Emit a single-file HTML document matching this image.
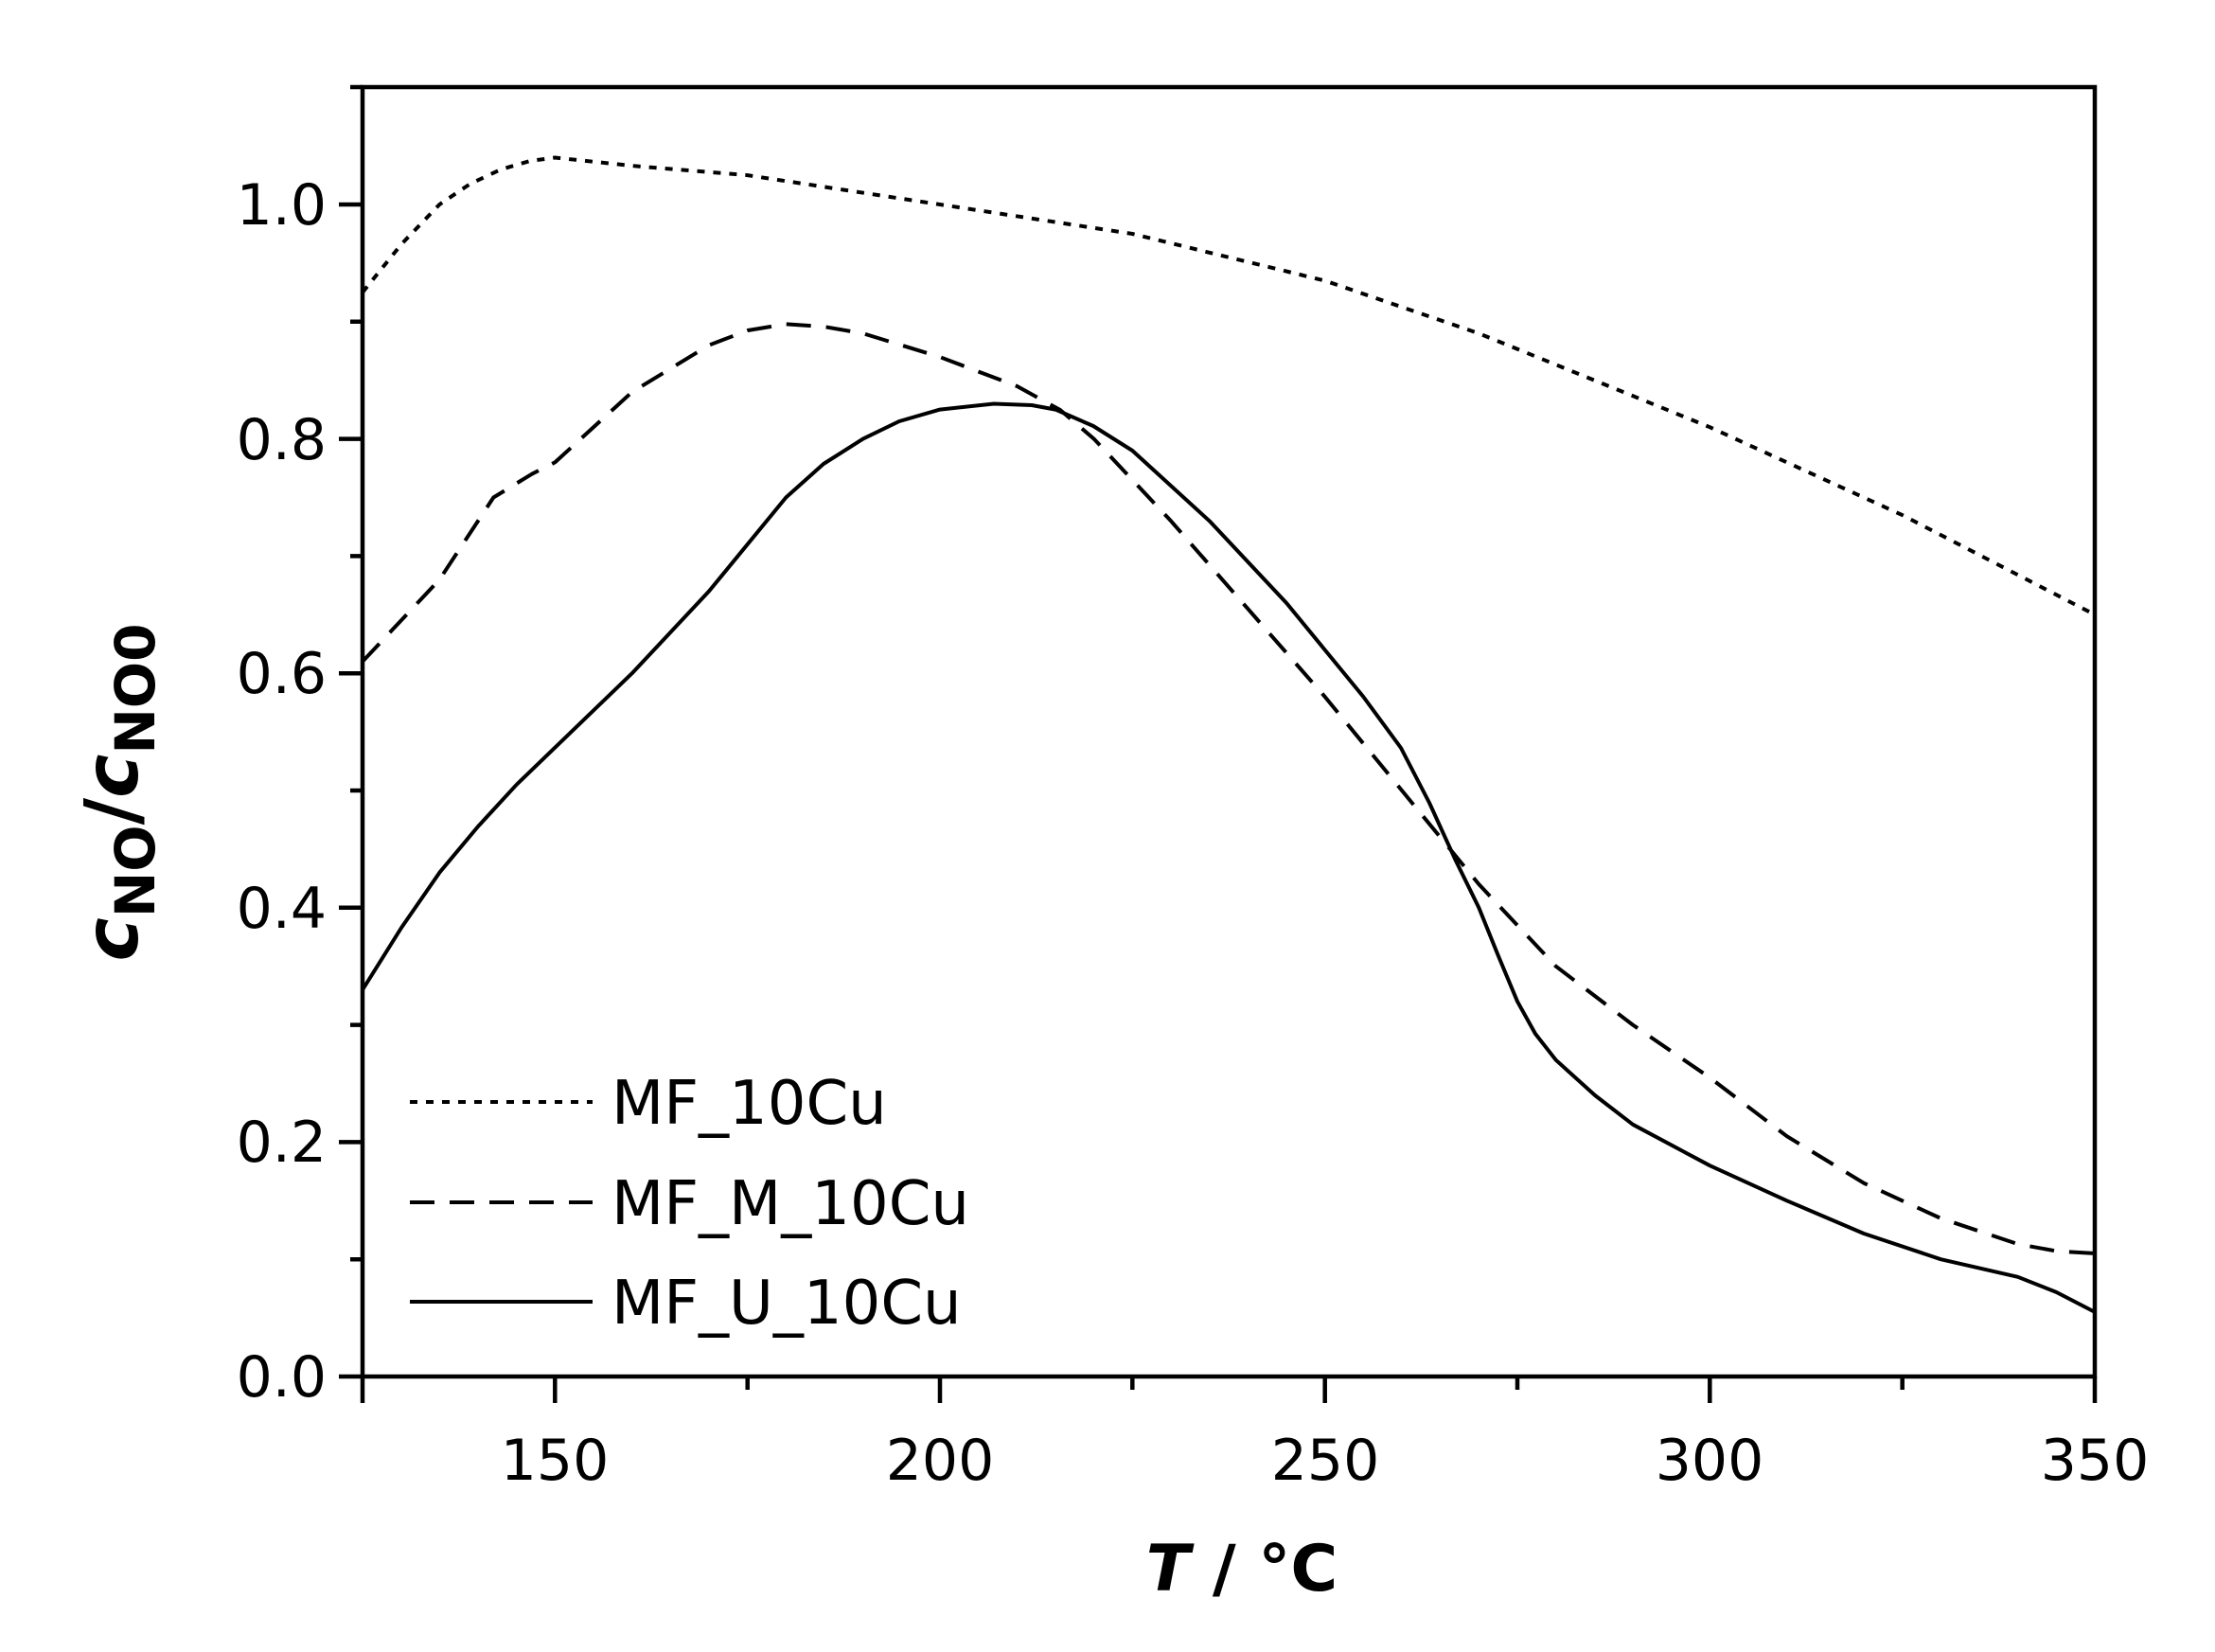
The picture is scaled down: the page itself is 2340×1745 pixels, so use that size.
<!DOCTYPE html>
<html><head><meta charset="utf-8"><style>html,body{margin:0;padding:0;background:#fff}</style></head>
<body>
<svg width="2340" height="1740" viewBox="0 0 2340 1740" xmlns="http://www.w3.org/2000/svg" font-family="'DejaVu Sans','Liberation Sans',sans-serif">
<rect width="2340" height="1740" fill="#fff"/>
<g stroke="#000" stroke-width="4.5" fill="none">
<rect x="383" y="92" width="1830" height="1362"/>
<path d="M383,1454v28M586.3,1454v28M993,1454v28M1399.7,1454v28M1806.3,1454v28M2213,1454v28
M789.7,1454v14M1196.3,1454v14M1603,1454v14M2009.7,1454v14"/>
<path d="M358,1454h25M358,1206.4h25M358,958.8h25M358,711.2h25M358,463.6h25M358,216h25
M370,1330.2h13M370,1082.6h13M370,835h13M370,587.4h13M370,339.8h13M370,92h13"/>
</g>
<g font-size="60" fill="#000">
<g text-anchor="end">
<text x="345" y="1475">0.0</text>
<text x="345" y="1227">0.2</text>
<text x="345" y="980">0.4</text>
<text x="345" y="732">0.6</text>
<text x="345" y="485">0.8</text>
<text x="345" y="237">1.0</text>
</g>
<g text-anchor="middle">
<text x="586" y="1563">150</text>
<text x="993" y="1563">200</text>
<text x="1400" y="1563">250</text>
<text x="1806" y="1563">300</text>
<text x="2213" y="1563">350</text>
</g>
</g>
<text x="1312" y="1680" text-anchor="middle" font-size="68" font-weight="bold"><tspan font-style="italic">T</tspan> / °C</text>
<text transform="translate(145,837) rotate(-90)" text-anchor="middle" font-size="78" font-weight="bold"><tspan font-style="italic">c</tspan><tspan font-size="58" dy="18">NO</tspan><tspan dy="-18">/</tspan><tspan font-style="italic">c</tspan><tspan font-size="58" dy="18">NO0</tspan></text>
<g fill="none" stroke="#000" stroke-width="4" stroke-linejoin="round" stroke-linecap="butt">
<polyline stroke-dasharray="8,9" points="383,308.9 424,258 464.3,216 497,194 529.4,178.9 560,170 586.3,166.5 667.7,175.1 789.7,185.1 993,216 1196.3,247 1399.7,296.5 1562.3,352.2 1806.3,451.2 2009.7,544.1 2213,649.3"/>
<polyline stroke-dasharray="26,16" points="383,698.8 464.3,612.2 521.3,525.5 561.9,500.7 586.3,488.4 667.7,414.1 749,364.6 790,349 830.3,342.3 870,345 911.7,352.2 993,377.1 1074.3,407.9 1120,433 1155.7,463.6 1237,550.3 1318.3,643.1 1399.7,736 1481,835 1562.3,934 1643.7,1020.7 1725,1082.6 1806.3,1138.3 1887.7,1200.2 1969,1249.7 2050.3,1286.9 2131.7,1314.1 2172.3,1321.5 2213,1324"/>
<polyline points="383,1045.5 424,980 464.3,921.7 505,873 545.7,828.8 667.7,711.2 749,624.5 830.3,525.5 870,490 911.7,463.6 950,445 993,432.6 1049.9,426.5 1090,428 1115,432.6 1155,450 1196.3,476 1277.7,550.3 1359,636.9 1440.3,736 1480,790 1510,848 1538,909.3 1562.3,958.8 1583,1010 1603,1057.8 1622,1092 1643.7,1119.7 1685,1157 1725,1187.8 1806.3,1231.2 1887.7,1268.3 1969,1303 2050.3,1330.2 2131.7,1348.8 2172.3,1364.9 2213,1385.9"/>
<line x1="433" y1="1164" x2="626" y2="1164" stroke-dasharray="8,9"/>
<line x1="433" y1="1270" x2="626" y2="1270" stroke-dasharray="26,16"/>
<line x1="433" y1="1375" x2="626" y2="1375"/>
</g>
<g font-size="64" fill="#000">
<text x="646" y="1187">MF_10Cu</text>
<text x="646" y="1293">MF_M_10Cu</text>
<text x="646" y="1398">MF_U_10Cu</text>
</g>
</svg>
</body></html>
